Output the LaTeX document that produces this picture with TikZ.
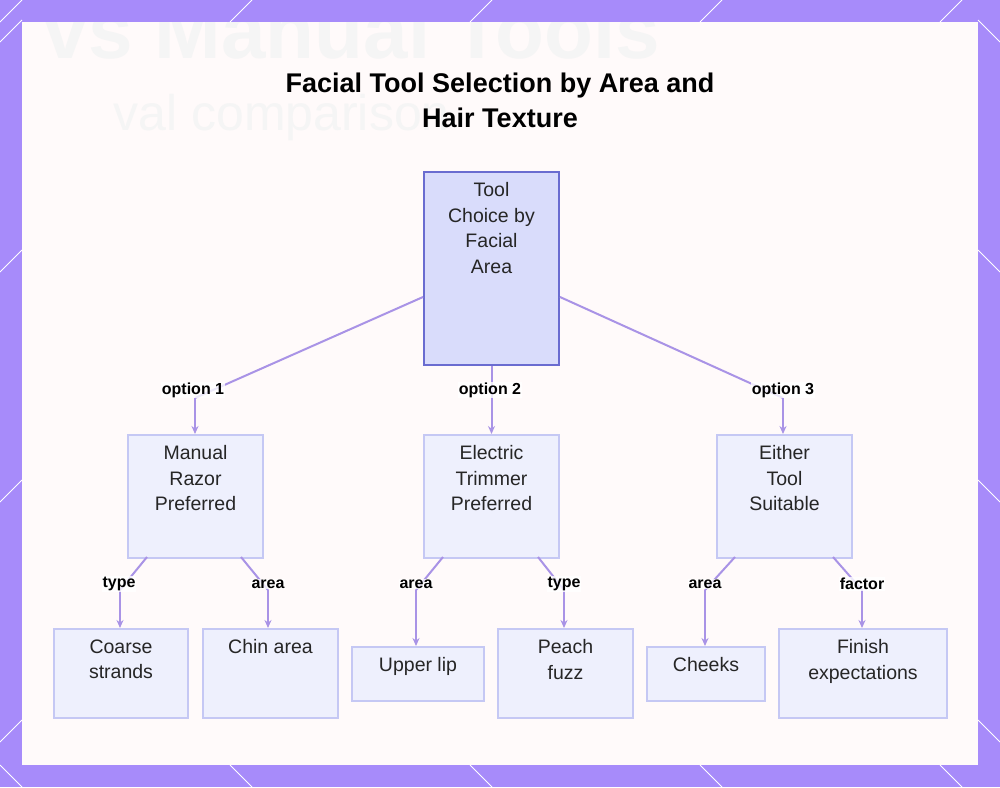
\documentclass[tikz,border=0pt]{standalone}
\usepackage{fontspec}
\setmainfont{Liberation Sans}
\usetikzlibrary{arrows.meta,positioning,calc}
\definecolor{frame}{HTML}{A78BFA}
\definecolor{edge}{HTML}{A993E6}
\definecolor{rootfill}{HTML}{D9DCFB}
\definecolor{rootline}{HTML}{6A6CD0}
\definecolor{boxfill}{HTML}{EEF0FD}
\definecolor{boxline}{HTML}{C5C8F4}
\begin{document}
\begin{tikzpicture}[x=1pt,y=-1pt,
  box/.style={draw=boxline, fill=boxfill, line width=2pt, anchor=north west, inner sep=0pt},
  txt/.style={anchor=north, align=center, font=\fontsize{19.5}{25.5}\selectfont, text=black!85},
  lab/.style={font=\bfseries\fontsize{16}{18}\selectfont, fill=white, fill opacity=0.8, text opacity=1, inner sep=1pt},
  arr/.style={draw=edge, line width=2pt, -{Stealth[length=8pt,width=7pt]}},
  ln/.style={draw=edge, line width=2pt}
]
\useasboundingbox (0,0) rectangle (1000,787);
% frame
\fill[frame] (0,0) rectangle (1000,787);
\foreach \x in {0,230,470,700,940} {
  \draw[white, line width=1pt] (\x,22) -- (\x+22,0);
  \draw[white, line width=1pt] (\x,765) -- (\x+22,787);
}
\foreach \y in {20,250,480,720} {
  \draw[white, line width=1pt] (0,\y+22) -- (22,\y);
  \draw[white, line width=1pt] (978,\y) -- (1000,\y+22);
}
\fill[white!98!red] (22,22) rectangle (978,765);
\begin{scope}
\clip (22,22) rectangle (978,765);
\node[text=black!4, font=\bfseries\fontsize{80}{80}\selectfont, anchor=west] at (40,30) {vs Manual Tools};
\node[text=black!4, font=\fontsize{50}{50}\selectfont, anchor=west] at (110,118) {val comparison};
\end{scope}
% title
\node[font=\bfseries\fontsize{27}{35}\selectfont, align=center] (title) at (500,100) {Facial Tool Selection by Area and\\Hair Texture};
% boxes
\node[box, draw=rootline, fill=rootfill, minimum width=135pt, minimum height=193pt] (root) at (423,171) {};
\node[box, minimum width=135pt, minimum height=123pt] (manual) at (127,434) {};
\node[box, minimum width=135pt, minimum height=123pt] (electric) at (423,434) {};
\node[box, minimum width=135pt, minimum height=123pt] (either) at (716,434) {};
\node[box, minimum width=134pt, minimum height=89pt] (coarse) at (53,628) {};
\node[box, minimum width=135pt, minimum height=89pt] (chin) at (202,628) {};
\node[box, minimum width=132pt, minimum height=54pt] (lip) at (351,646) {};
\node[box, minimum width=135pt, minimum height=89pt] (peach) at (497,628) {};
\node[box, minimum width=118pt, minimum height=54pt] (cheeks) at (646,646) {};
\node[box, minimum width=168pt, minimum height=89pt] (finish) at (778,628) {};
% texts
\node[txt] at ([yshift=-8pt]root.north) {Tool\\Choice by\\Facial\\Area};
\node[txt] at ([yshift=-8pt]manual.north) {Manual\\Razor\\Preferred};
\node[txt] at ([yshift=-8pt]electric.north) {Electric\\Trimmer\\Preferred};
\node[txt] at ([yshift=-8pt]either.north) {Either\\Tool\\Suitable};
\node[txt] at ([yshift=-8pt]coarse.north) {Coarse\\strands};
\node[txt] at ([yshift=-8pt]chin.north) {Chin area};
\node[txt] at ([yshift=-8pt]lip.north) {Upper lip};
\node[txt] at ([yshift=-8pt]peach.north) {Peach\\fuzz};
\node[txt] at ([yshift=-8pt]cheeks.north) {Cheeks};
\node[txt] at ([yshift=-8pt]finish.north) {Finish\\expectations};
% bend points
\coordinate (b1) at (195,398);
\coordinate (b3) at (783,398);
\coordinate (c1) at (120,590);
\coordinate (c2) at (268,590);
\coordinate (c3) at (416,590);
\coordinate (c4) at (564,590);
\coordinate (c5) at (705,590);
\coordinate (c6) at (862,590);
% connectors
\draw[ln] (root.west |- 0,297) -- (b1);
\draw[arr] (b1) -- (b1 |- manual.north);
\draw[arr] (root.south) -- (electric.north);
\draw[ln] (root.east |- 0,297) -- (b3);
\draw[arr] (b3) -- (b3 |- either.north);
\draw[ln] (147,557) -- (c1); \draw[arr] (c1) -- (c1 |- coarse.north);
\draw[ln] (241,557) -- (c2); \draw[arr] (c2) -- (c2 |- chin.north);
\draw[ln] (443,557) -- (c3); \draw[arr] (c3) -- (c3 |- lip.north);
\draw[ln] (538,557) -- (c4); \draw[arr] (c4) -- (c4 |- peach.north);
\draw[ln] (735,557) -- (c5); \draw[arr] (c5) -- (c5 |- cheeks.north);
\draw[ln] (833,557) -- (c6); \draw[arr] (c6) -- (c6 |- finish.north);
% labels
\node[lab] (l1) at (193,390) {option 1};
\node[lab] (l2) at (490,390) {option 2};
\node[lab] (l3) at (783,390) {option 3};
\node[lab] (l4) at (119,584) {type};
\node[lab] (l5) at (268,584) {area};
\node[lab] (l6) at (416,584) {area};
\node[lab] (l7) at (564,584) {type};
\node[lab] (l8) at (705,584) {area};
\node[lab] (l9) at (862,584) {factor};
\end{tikzpicture}
\end{document}
